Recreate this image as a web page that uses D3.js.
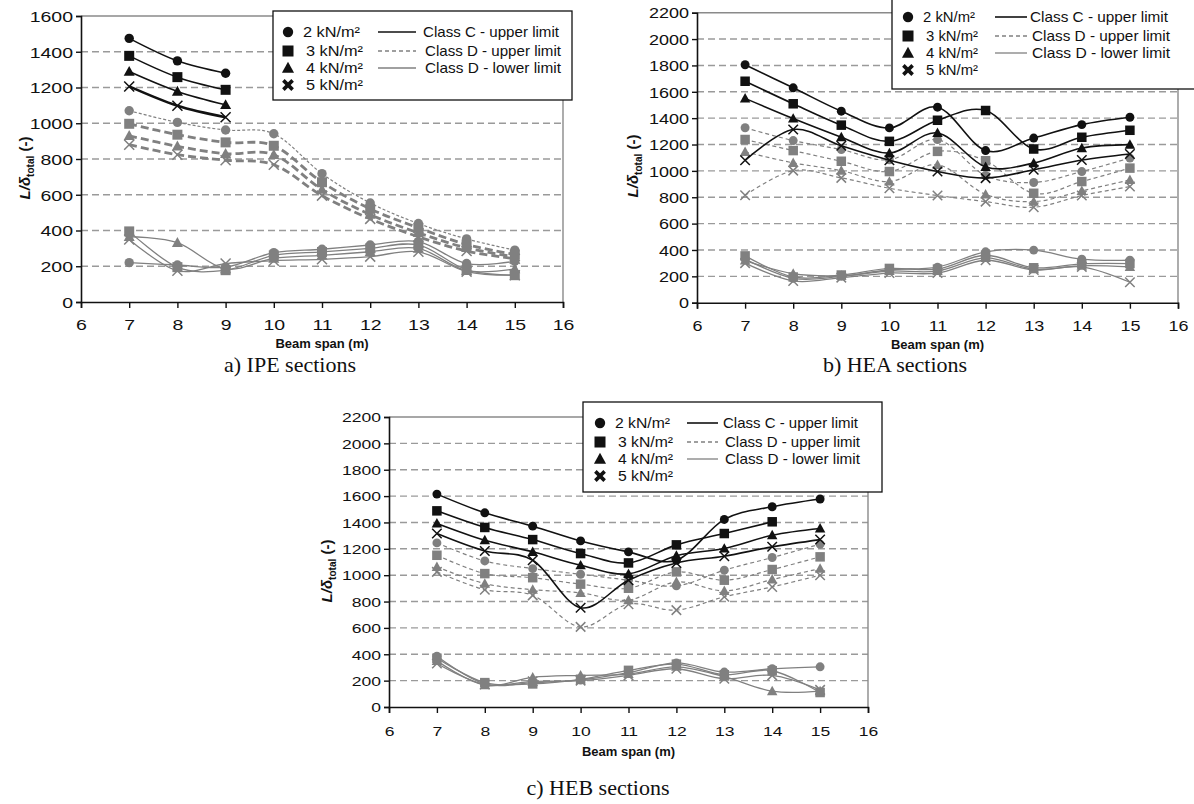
<!DOCTYPE html>
<html><head><meta charset="utf-8">
<script src="https://cdn.jsdelivr.net/npm/d3@7"></script>
<style>body{margin:0;background:#fff} svg{display:block}</style>
</head><body>
<svg id="chart" width="1194" height="804"></svg>
<script>
// ---------------- DATA ----------------
const spans = [7, 8, 9, 10, 11, 12, 13, 14, 15];
const xTicks = [6, 7, 8, 9, 10, 11, 12, 13, 14, 15, 16];
const yTicksIPE = [0, 200, 400, 600, 800, 1000, 1200, 1400, 1600];
const yTicksHE = [0, 200, 400, 600, 800, 1000, 1200, 1400, 1600, 1800, 2000, 2200];
const loads = ["2 kN/m²", "3 kN/m²", "4 kN/m²", "5 kN/m²"];
const classLabels = ["Class C - upper limit", "Class D - upper limit", "Class D - lower limit"];
const captions = ["a) IPE sections", "b) HEA sections", "c) HEB sections"];
const xTitle = "Beam span (m)";

// a) IPE — rows: 2, 3, 4, 5 kN/m²; columns: spans 7..15
const ipeClassCUpper = [
  [1475, 1349, 1280, null, null, null, null, null, null],
  [1377, 1258, 1187, null, null, null, null, null, null],
  [1289, 1178, 1103, null, null, null, null, null, null],
  [1206, 1098, 1034, null, null, null, null, null, null]
];
const ipeClassDUpper = [
  [1070, 1005, 962, 941, 718, 554, 439, 353, 290],
  [997, 936, 893, 874, 670, 521, 415, 322, 266],
  [930, 871, 830, 824, 629, 489, 387, 303, 253],
  [880, 824, 793, 768, 595, 465, 365, 285, 242]
];
const ipeClassDLower = [
  [220, 207, 195, 276, 295, 319, 338, 215, 228],
  [395, 195, 178, 261, 280, 300, 319, 180, 150],
  [365, 332, 185, 244, 261, 281, 300, 175, 185],
  [350, 175, 215, 231, 239, 254, 281, 170, 150]
];

// b) HEA
const heaClassCUpper = [
  [1805, 1630, 1453, 1326, 1483, 1154, 1249, 1351, 1407],
  [1680, 1509, 1347, 1224, 1384, 1458, 1166, 1255, 1308],
  [1550, 1397, 1256, 1135, 1288, 1030, 1059, 1173, 1199],
  [1080, 1314, 1190, 1080, 995, 945, 1008, 1082, 1128]
];
const heaClassDUpper = [
  [1327, 1230, 1162, 1084, 1237, 965, 912, 995, 1097],
  [1238, 1154, 1073, 995, 1148, 1077, 830, 919, 1021],
  [1144, 1061, 1002, 919, 1046, 822, 767, 848, 932],
  [815, 1002, 947, 868, 813, 767, 724, 813, 881]
];
const heaClassDLower = [
  [330, 185, 200, 250, 270, 386, 399, 330, 322],
  [355, 195, 210, 260, 255, 360, 265, 295, 297],
  [320, 220, 205, 240, 240, 340, 255, 280, 272],
  [300, 165, 190, 225, 225, 322, 248, 272, 155]
];

// c) HEB
const hebClassCUpper = [
  [1615, 1473, 1372, 1260, 1177, 1113, 1423, 1519, 1578],
  [1488, 1362, 1270, 1164, 1093, 1230, 1316, 1405, null],
  [1392, 1265, 1177, 1075, 1010, 1148, 1202, 1303, 1354],
  [1316, 1184, 1113, 753, 962, 1093, 1144, 1215, 1270]
];
const hebClassDUpper = [
  [1245, 1108, 1050, 1007, 962, 919, 1038, 1134, 1235],
  [1151, 1012, 981, 932, 901, 1025, 962, 1043, 1139],
  [1063, 936, 890, 866, 811, 949, 881, 967, 1050],
  [1025, 890, 847, 608, 780, 735, 836, 911, 1000]
];
const hebClassDLower = [
  [385, 175, 185, 205, 260, 335, 265, 290, 305],
  [370, 185, 175, 210, 278, 325, 245, 275, 110],
  [350, 165, 225, 240, 250, 305, 230, 120, 120],
  [330, 170, 195, 200, 240, 290, 215, 240, 130]
];

// ---------------- DRAWING ----------------
const svg = d3.select("#chart");
const FONT = "'Liberation Sans', Arial, sans-serif";
const BLACK = "#111";
const GRAY = "#808080";
const markerKinds = ["circle", "square", "triangle", "cross"];

function drawMarker(g, kind, x, y, color, s, legend) {
  if (kind === "circle") {
    g.append("circle").attr("cx", x).attr("cy", y).attr("r", s * 0.47).attr("fill", color);
  } else if (kind === "square") {
    g.append("rect").attr("x", x - s / 2).attr("y", y - s / 2).attr("width", s).attr("height", s).attr("fill", color);
  } else if (kind === "triangle") {
    const h = s * 0.95;
    g.append("path").attr("d", `M${x},${y - h * 0.6}L${x + s * 0.55},${y + h * 0.45}L${x - s * 0.55},${y + h * 0.45}Z`).attr("fill", color);
  } else {
    const r = legend ? s * 0.42 : s * 0.5;
    g.append("path").attr("d", `M${x - r},${y - r}L${x + r},${y + r}M${x - r},${y + r}L${x + r},${y - r}`)
      .attr("stroke", color).attr("stroke-width", legend ? 3.6 : 1.5).attr("fill", "none");
  }
}

function drawPanel(cfg) {
  const g = svg.append("g");
  const x = d3.scaleLinear().domain([6, 16]).range([cfg.x0, cfg.x1]);
  const y = d3.scaleLinear().domain([0, cfg.ymax]).range([cfg.yb, cfg.yt]);

  // grid lines
  g.append("g").selectAll("line").data(cfg.yTicks.filter(v => v > 0 && v < cfg.ymax)).join("line")
    .attr("x1", cfg.x0).attr("x2", cfg.x1).attr("y1", d => y(d)).attr("y2", d => y(d))
    .attr("stroke", "#9a9a9a").attr("stroke-width", 1.4).attr("stroke-dasharray", "7,4");
  // top and right frame
  g.append("path").attr("d", `M${cfg.x0},${y(cfg.ymax)}H${cfg.x1}V${cfg.yb}`)
    .attr("fill", "none").attr("stroke", "#8a8a8a").attr("stroke-width", 1.4);

  // axes
  const ax = g.append("g").attr("transform", `translate(0,${cfg.yb})`)
    .call(d3.axisBottom(x).tickValues(xTicks).tickSize(6).tickFormat(d3.format("d")));
  const ay = g.append("g").attr("transform", `translate(${cfg.x0},0)`)
    .call(d3.axisLeft(y).tickValues(cfg.yTicks).tickSize(5).tickFormat(d3.format("d")));
  [ax, ay].forEach(a => {
    a.select(".domain").attr("stroke", BLACK).attr("stroke-width", 1.6);
    a.selectAll(".tick line").attr("stroke", BLACK).attr("stroke-width", 1.4);
    a.selectAll("text").style("font-family", FONT).style("font-size", cfg.tickSize + "px").attr("fill", BLACK);
  });
  ax.selectAll(".tick text").attr("dy", null).attr("y", 0)
    .attr("transform", `translate(0,${cfg.xLabDy}) scale(${cfg.sx},1)`);
  ay.selectAll(".tick text").attr("x", -8 / cfg.sx).attr("dy", "0.35em")
    .attr("transform", `scale(${cfg.sx},1)`);

  // series
  const line = d3.line().defined(d => d[1] != null).x(d => x(d[0])).y(d => y(d[1]))
    .curve(d3.curveCatmullRom.alpha(0));
  const sets = [
    { data: cfg.dLower, color: GRAY, width: () => 1.3, dash: () => null },
    { data: cfg.dUpper, color: GRAY, width: cfg.dUpperWidth, dash: cfg.dUpperDash },
    { data: cfg.cUpper, color: BLACK, width: cfg.cUpperWidth, dash: () => null }
  ];
  sets.forEach(set => {
    set.data.forEach((row, i) => {
      const pts = spans.map((s, j) => [s, row[j]]);
      g.append("path").attr("d", line(pts)).attr("fill", "none")
        .attr("stroke", set.color).attr("stroke-width", set.width(i))
        .attr("stroke-dasharray", set.dash(i));
    });
    set.data.forEach((row, i) => {
      const mg = g.append("g");
      spans.forEach((s, j) => {
        if (row[j] != null) drawMarker(mg, markerKinds[i], x(s), y(row[j]), set.color, cfg.mk, false);
      });
    });
  });

  // axis titles
  g.append("text").attr("x", (cfg.x0 + cfg.x1) / 2).attr("y", cfg.yb + cfg.titleDy)
    .attr("text-anchor", "middle").style("font-family", FONT).style("font-size", "13px")
    .style("font-weight", "bold").attr("fill", BLACK).text(xTitle);
  const yl = g.append("text").attr("transform", `translate(${cfg.ylx},${cfg.yly}) rotate(-90)`)
    .attr("text-anchor", "middle").style("font-family", FONT).style("font-weight", "bold")
    .style("font-size", "15px").attr("fill", BLACK);
  yl.append("tspan").style("font-style", "italic").text("L/δ");
  yl.append("tspan").attr("dy", 4).style("font-size", "10px").text("total");
  yl.append("tspan").attr("dy", -4).text(" (-)");

  // caption
  g.append("text").attr("x", cfg.capX).attr("y", cfg.capY).attr("text-anchor", "middle")
    .style("font-family", "'Liberation Serif', 'Times New Roman', serif").style("font-size", "22px")
    .attr("fill", BLACK).text(cfg.caption);

  // legend
  const L = cfg.legend;
  const lg = g.append("g");
  lg.append("rect").attr("x", L.x).attr("y", L.y).attr("width", L.w).attr("height", L.h)
    .attr("fill", "#fff").attr("stroke", BLACK).attr("stroke-width", 1.3);
  const rows = [21, 40, 57, 74];
  loads.forEach((lab, i) => {
    drawMarker(lg, markerKinds[i], L.x + L.mx, L.y + rows[i], BLACK, 11, true);
    lg.append("text").attr("x", L.x + L.tx + (i > 0 ? 3 : 0)).attr("y", L.y + rows[i] + 5)
      .attr("textLength", L.tw).attr("lengthAdjust", "spacingAndGlyphs")
      .style("font-family", FONT).style("font-size", "15px").attr("fill", BLACK).text(lab);
  });
  const lstyles = [
    { c: BLACK, w: 1.6, d: null },
    { c: GRAY, w: 1.3, d: "4,3" },
    { c: GRAY, w: 1.3, d: null }
  ];
  classLabels.forEach((lab, i) => {
    const yy = L.y + rows[i];
    lg.append("line").attr("x1", L.x + L.l1).attr("x2", L.x + L.l2).attr("y1", yy).attr("y2", yy)
      .attr("stroke", lstyles[i].c).attr("stroke-width", lstyles[i].w).attr("stroke-dasharray", lstyles[i].d);
    lg.append("text").attr("x", L.x + L.cx + (i > 0 ? 2 : 0)).attr("y", yy + 5)
      .attr("textLength", L.cw).attr("lengthAdjust", "spacingAndGlyphs")
      .style("font-family", FONT).style("font-size", "15px").attr("fill", BLACK).text(lab);
  });
}

drawPanel({
  x0: 81, x1: 563, yb: 302, yt: 16, ymax: 1600, yTicks: yTicksIPE,
  cUpper: ipeClassCUpper, dUpper: ipeClassDUpper, dLower: ipeClassDLower,
  cUpperWidth: i => (i === 3 ? 2.6 : 1.6),
  dUpperWidth: i => (i === 0 ? 1.2 : 2.8), dUpperDash: i => (i === 0 ? "3,2" : "8,4"),
  mk: 10, tickSize: 15, sx: 1.3, xLabDy: 28, titleDy: 46,
  ylx: 30, yly: 168, caption: captions[0], capX: 290, capY: 372,
  legend: { x: 273, y: 11, w: 299, h: 89, mx: 15, tx: 30, tw: 57, l1: 105, l2: 143, cx: 150, cw: 136 }
});
drawPanel({
  x0: 697, x1: 1178, yb: 302.7, yt: 12.7, ymax: 2200, yTicks: yTicksHE,
  cUpper: heaClassCUpper, dUpper: heaClassDUpper, dLower: heaClassDLower,
  cUpperWidth: () => 1.6,
  dUpperWidth: () => 1.2, dUpperDash: () => "4,3",
  mk: 9.5, tickSize: 15, sx: 1.2, xLabDy: 28, titleDy: 46,
  ylx: 638, yly: 166, caption: captions[1], capX: 895, capY: 372,
  legend: { x: 892, y: -4, w: 310, h: 93, mx: 16, tx: 31, tw: 52, l1: 103, l2: 135, cx: 138, cw: 138 }
});
drawPanel({
  x0: 389, x1: 868, yb: 707, yt: 417, ymax: 2200, yTicks: yTicksHE,
  cUpper: hebClassCUpper, dUpper: hebClassDUpper, dLower: hebClassDLower,
  cUpperWidth: () => 1.6,
  dUpperWidth: () => 1.2, dUpperDash: () => "4,3",
  mk: 9.5, tickSize: 13.5, sx: 1.3, xLabDy: 29, titleDy: 49,
  ylx: 332, yly: 571, caption: captions[2], capX: 598, capY: 795,
  legend: { x: 583, y: 402, w: 299, h: 90, mx: 17, tx: 32, tw: 55, l1: 104, l2: 135, cx: 140, cw: 135 }
});
</script>
</body></html>
